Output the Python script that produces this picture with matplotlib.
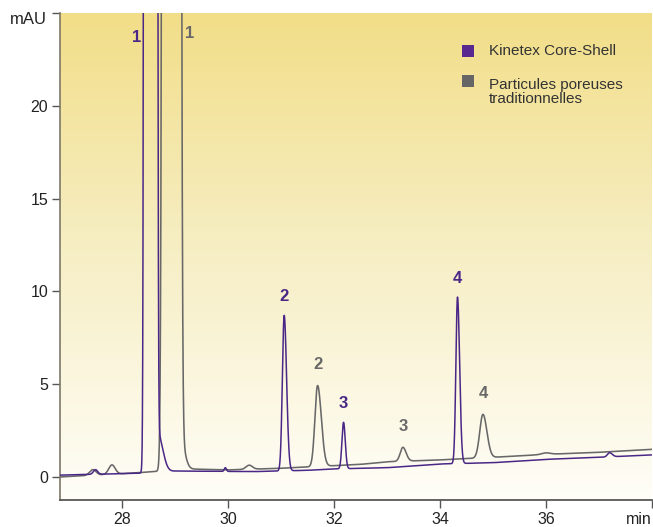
import numpy as np
import matplotlib
matplotlib.use("Agg")
import matplotlib.pyplot as plt
from matplotlib.colors import LinearSegmentedColormap
from matplotlib.patches import Rectangle

plt.rcParams['font.family'] = ['Liberation Sans', 'DejaVu Sans']

# ---- chromatogram data -------------------------------------------------
series_names = ["Kinetex Core-Shell", "Particules poreuses\ntraditionnelles"]

# Kinetex: peak apex times (min), heights above baseline (mAU), left/right widths (min)
kin_times = [28.54, 28.68, 31.06, 32.18, 34.33, 27.50, 29.95, 37.20]
kin_heights = [1.0e5, 2.0, 8.38, 2.50, 8.97, 0.25, 0.20, 0.22]
kin_sig_left = [0.034, 0.09, 0.034, 0.030, 0.030, 0.04, 0.02, 0.04]
kin_sig_right = [0.034, 0.09, 0.045, 0.032, 0.040, 0.04, 0.02, 0.05]
kin_base_t = [26.83, 28.3, 29.0, 30.5, 31.5, 32.0, 32.5, 33.0, 34.0, 35.0, 36.0, 37.0, 38.0]
kin_base_v = [0.10, 0.20, 0.32, 0.29, 0.36, 0.43, 0.47, 0.50, 0.70, 0.77, 0.95, 1.06, 1.19]

# Traditional porous particles
trad_times = [28.935, 29.13, 31.69, 33.30, 34.81, 27.45, 27.81, 30.40, 36.00]
trad_heights = [2.0e4, 1.2, 4.36, 0.75, 2.34, 0.30, 0.50, 0.22, 0.08]
trad_sig_left = [0.053, 0.07, 0.050, 0.050, 0.060, 0.06, 0.06, 0.06, 0.08]
trad_sig_right = [0.053, 0.07, 0.070, 0.060, 0.075, 0.06, 0.06, 0.06, 0.08]
trad_base_t = [26.83, 28.3, 29.3, 30.0, 31.0, 32.5, 33.0, 34.0, 35.0, 36.0, 37.0, 38.0]
trad_base_v = [0.00, 0.23, 0.43, 0.38, 0.47, 0.68, 0.82, 0.92, 1.06, 1.22, 1.33, 1.49]

# numbered peaks (index into the peak lists above)
kin_labels = ["2", "3", "4"]
kin_label_idx = [2, 3, 4]
trad_labels = ["2", "3", "4"]
trad_label_idx = [2, 3, 4]

x_ticks = [28, 30, 32, 34, 36, 38]
x_ticklabels = ["28", "30", "32", "34", "36", "min"]
y_ticks = [0, 5, 10, 15, 20, 25]
y_ticklabels = ["0", "5", "10", "15", "20", ""]

PURPLE = "#4a2787"
GRAY = "#686868"


def trace(t, times, heights, sl, sr, bt, bv):
    y = np.interp(t, bt, bv)
    for c, h, a, b in zip(times, heights, sl, sr):
        s = np.where(t < c, a, b)
        y = y + h * np.exp(-0.5 * ((t - c) / s) ** 2)
    return y


t = np.linspace(26.83, 38.0, 6000)
y_kin = trace(t, kin_times, kin_heights, kin_sig_left, kin_sig_right, kin_base_t, kin_base_v)
y_trad = trace(t, trad_times, trad_heights, trad_sig_left, trad_sig_right, trad_base_t, trad_base_v)

# ---- figure ---------------------------------------------------------------
fig = plt.figure(figsize=(6.53, 5.27), dpi=100)
ax = fig.add_axes([60 / 653, 27 / 527, 592 / 653, 487 / 527])
xlim = (26.83, 38.0)
ylim = (-1.24, 25.0)

# vertical yellow-to-white gradient behind the traces
grad_cmap = LinearSegmentedColormap.from_list(
    "bg", [(0.0, "#fffef8"), (0.55, "#f6edc0"), (1.0, "#f2de88")])
grad = np.linspace(0, 1, 256).reshape(-1, 1)
ax.imshow(grad, extent=[xlim[0], xlim[1], ylim[0], ylim[1]], origin="lower",
          aspect="auto", cmap=grad_cmap, zorder=0, interpolation="bicubic")

ax.plot(t, y_trad, color=GRAY, lw=1.15, zorder=3)
ax.plot(t, y_kin, color=PURPLE, lw=1.1, zorder=4)

ax.set_xlim(*xlim)
ax.set_ylim(*ylim)

for sp in ["top", "right"]:
    ax.spines[sp].set_visible(False)
ax.spines["left"].set_color("#7d7868")
ax.spines["bottom"].set_color("#4a4a4a")
ax.spines["left"].set_linewidth(1.2)
ax.spines["bottom"].set_linewidth(1.2)

ax.set_xticks(x_ticks)
ax.set_xticklabels(x_ticklabels)
ax.set_yticks(y_ticks)
ax.set_yticklabels(y_ticklabels)
ax.tick_params(axis="x", direction="out", length=5.5, width=1.0, color="#555555",
               labelsize=11.5, labelcolor="#222222", pad=3)
ax.tick_params(axis="y", direction="out", length=5.5, width=1.0, color="#555555",
               labelsize=11.5, labelcolor="#222222", pad=3)
ax.get_xticklabels()[-1].set_horizontalalignment("right")

ax.text(-13 / 592, 0.986, "mAU", transform=ax.transAxes, ha="right", va="center",
        fontsize=12, color="#222222")

# peak numbers
lbl_kw = dict(fontsize=12, fontweight="bold", ha="center", va="center")
ax.text(28.28, 23.7, "1", color=PURPLE, **lbl_kw)
ax.text(29.27, 23.9, "1", color=GRAY, **lbl_kw)
for lab, i in zip(kin_labels, kin_label_idx):
    apex = np.interp(kin_times[i], t, y_kin)
    ax.annotate(lab, (kin_times[i], apex), xytext=(0, 19), textcoords="offset pixels",
                color=PURPLE, **lbl_kw)
for lab, i in zip(trad_labels, trad_label_idx):
    apex = np.interp(trad_times[i], t, y_trad)
    ax.annotate(lab, (trad_times[i], apex), xytext=(0, 21), textcoords="offset pixels",
                color=GRAY, **lbl_kw)

# legend drawn as colour squares with text
sq_w, sq_h = 12 / 592, 12 / 487
ax.add_patch(Rectangle((0.679, 0.910), sq_w, sq_h, transform=ax.transAxes,
                       facecolor="#58298f", edgecolor="none", zorder=5))
ax.add_patch(Rectangle((0.679, 0.848), sq_w, sq_h, transform=ax.transAxes,
                       facecolor="#666666", edgecolor="none", zorder=5))
ax.text(0.7247, 0.922, series_names[0], transform=ax.transAxes, ha="left", va="center",
        fontsize=11, color="#333333")
ax.text(0.7247, 0.866, series_names[1], transform=ax.transAxes, ha="left", va="top",
        fontsize=11, color="#333333", linespacing=1.02)

fig.savefig("out.png", dpi=100, facecolor="white")
